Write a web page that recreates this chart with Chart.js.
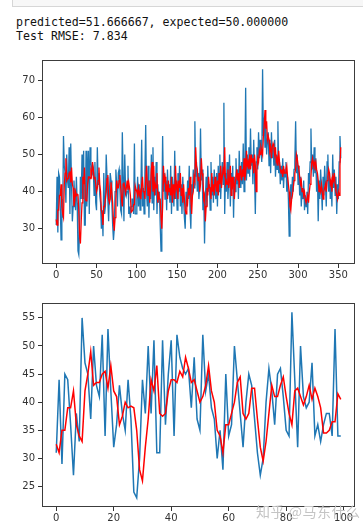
<!DOCTYPE html>
<html lang="en">
<head>
  <meta charset="UTF-8">
  <title>Test RMSE</title>
  <script src="https://cdn.jsdelivr.net/npm/chart.js"></script>
  <style>
    body { margin: 0; background: #fff; width: 363px; height: 531px; position: relative; overflow: hidden; }
    .cell-edge { position: absolute; left: 12px; top: -2px; width: 352px; height: 7px; border: 1px solid #d6d6d6; background: #f7f7f7; }
    pre { position: absolute; left: 16px; top: 15px; margin: 0; font-family: "DejaVu Sans Mono", "Liberation Mono", monospace; font-size: 11.6px; line-height: 14px; color: #111; }
    canvas { position: absolute; left: 0; }
    #topChart { top: 50px; }
    #bottomChart { top: 293px; }
    .mark { position: absolute; left: 256px; top: 501px; font-family: "Noto Sans CJK SC", sans-serif; font-size: 14px; color: #c4c4c4; letter-spacing: 0.5px; }
  </style>
</head>
<body>
  <div class="cell-edge"></div>
  <pre>predicted=51.666667, expected=50.000000
Test RMSE: 7.834</pre>

  <canvas id="topChart" width="363" height="235"></canvas>
  <canvas id="bottomChart" width="363" height="235"></canvas>
  <div class="mark">知乎 @马东什么</div>

  <script>
    // valores reales del test (los primeros 100 se repiten en el gráfico de abajo)
    const expectedHead = [31,44,29,45,44,36,27,38,33,55, 47,45,37,50,43,41,52,34,53,42,
      32,36,43,38,35,44,37,24,23,30, 44,38,50,38,51,31,31,51,36,45,
      51,34,52,48,46,45,46,39,48,37, 35,52,42,45,39,37,30,35,28,45,
      34,36,50,44,38,32,40,45,43,37, 31,27,30,40,46,42,36,45,46,41,
      35,34,56,44,32,50,41,39,40,47, 34,36,33,36,38,38,34,53,34,34];

    const expectedTail = [38,44,36,42,35,40,54,36,41,34, 45,58,40,36,47,33,43,38,50,37,
      52,35,44,39,48,34,42,37,40,31, 24,36,55,40,45,38,43,35,46,39,
      42,37,47,34,44,40,36,51,38,43, 35,45,40,47,36,42,34,44,38,33,
      30,40,36,43,38,47,35,30,42,39, 46,41,59,44,48,40,45,38,42,57,
      43,46,35,40,26,38,44,36,47,40, 42,35,48,39,44,37,46,41,38,45,
      36,47,40,50,38,44,48,42,64,34, 45,40,48,38,43,50,36,45,41,47,
      33,44,40,49,42,46,38,51,44,41, 48,42,53,40,46,68,43,50,45,52,
      44,57,47,50,42,54,45,34,48,52, 46,56,49,54,51,48,73,55,60,52,
      58,50,54,56,47,53,45,56,49,52, 47,54,44,50,46,59,45,48,42,47,
      43,49,41,46,44,48,40,44,38,28, 36,42,38,44,40,46,48,59,45,50,
      42,47,39,44,36,41,38,43,35,39, 36,40,34,45,42,48,57,46,50,44,
      52,45,49,40,45,32,43,38,46,41, 35,44,39,47,42,36,48,50,40,45,
      38,43,36,50,41,46,39,44,34,42, 38,48,55,49];

    // predicciones del modelo
    const predictedHead = [32.5,31,35,35,39,39,42,36,34,33, 42,45,49,43,43.5,43.5,45,45.5,42.5,46.5,
      42,41,36,37.5,40,39,39.3,39,35,28, 26,32,37,44,42,46.5,38,37.5,38,42,
      44,44,43.5,45.5,44.5,48,46,43.5,44,42, 40,41,43,46.5,42,40,35,34,31,36,
      36,38,40,43.5,44.5,38,37,38,42.5,42.5, 37,32,29.5,33,38,43,41,41,43,44.5,
      41,38,36,42,42.5,41,39.5,41,43,40.5, 42.5,41,39,34.5,34.5,35,36.5,36.5,41.5,40.5];

    const predictedTail = [40,39,41,39,40,38,42,44,40,40, 38,43,47,42,39,43,37,41,46,48,
      40,47,39,42,41,45,37,40,38,38, 33,30,36,47,43,44,40,42,38,43,
      40,41,39,44,37,42,40,38,47,41, 42,38,43,41,45,39,41,37,42,38,
      35,34,38,37,41,39,44,38,34,39, 40,44,43,52,47,46,43,44,40,42,
      49,45,44,38,39,32,36,41,39,44, 41,41,38,45,40,42,39,44,42,40,
      43,39,45,42,47,41,44,46,45,52, 42,43,42,46,41,43,47,39,44,42,
      44,38,42,42,46,43,45,41,47,45, 43,46,44,49,43,45,51,47,48,46,
      50,46,50,48,49,45,50,47,40,46, 49,48,51,50,52,51,50,55,58,62,
      57,59,54,55,54,51,52,49,52,53, 52,50,52,48,49,47,51,48,46,45,
      46,44,47,45,45,46,47,44,42,40, 36,35,38,39,41,43,45,46,50,49,
      47,46,44,42,43,40,41,39,40,38, 37,37,39,37,40,42,44,48,49,47,
      48,47,48,46,45,43,40,41,40,42, 40,38,40,41,42,40,43,44,46,45,
      42,43,40,44,43,45,42,40,39,38, 40,39,47,52];

    const expectedAll = expectedHead.concat(expectedTail);
    const predictedAll = predictedHead.concat(predictedTail);

    const topXTicks = [0, 50, 100, 150, 200, 250, 300, 350];
    const topYTicks = [30, 40, 50, 60, 70];
    const bottomXTicks = [0, 20, 40, 60, 80, 100];
    const bottomYTicks = [25, 30, 35, 40, 45, 50, 55];

    // caja completa alrededor del área (como las spines de matplotlib)
    const boxPlugin = {
      id: 'box',
      afterDraw(chart) {
        const { ctx, chartArea: a } = chart;
        ctx.save();
        ctx.strokeStyle = '#3c3c3c';
        ctx.lineWidth = 1;
        ctx.strokeRect(Math.round(a.left) + 0.5, Math.round(a.top) + 0.5,
          Math.round(a.right - a.left) - 1, Math.round(a.bottom - a.top) - 1);
        ctx.restore();
      }
    };

    function toPoints(values) {
      return values.map((v, i) => ({ x: i, y: v }));
    }

    function makeChart(id, expected, predicted, xTicks, yTicks, lineW) {
      const n = expected.length;
      const xPad = (n - 1) * 0.05;
      const all = expected.concat(predicted);
      const lo = Math.min(...all), hi = Math.max(...all);
      const yPad = (hi - lo) * 0.05;
      const tickFont = { family: 'DejaVu Sans', size: 10 };

      return new Chart(document.getElementById(id).getContext('2d'), {
        type: 'line',
        data: {
          datasets: [
            { label: 'expected', data: toPoints(expected), borderColor: '#1f77b4', borderWidth: lineW, pointRadius: 0, tension: 0, order: 2 },
            { label: 'predicted', data: toPoints(predicted), borderColor: '#ff0000', borderWidth: lineW, pointRadius: 0, tension: 0, order: 1 }
          ]
        },
        options: {
          responsive: false,
          animation: false,
          devicePixelRatio: 1,
          layout: { padding: { top: 10, right: 8, left: 0, bottom: 0 } },
          plugins: { legend: { display: false }, tooltip: { enabled: false } },
          scales: {
            x: {
              type: 'linear',
              min: -xPad,
              max: n - 1 + xPad,
              afterBuildTicks: s => { s.ticks = xTicks.map(v => ({ value: v })); },
              afterFit: s => { s.height = 21; },
              ticks: { color: '#333', font: tickFont, padding: 1, maxRotation: 0 },
              grid: { drawOnChartArea: false, drawTicks: true, tickLength: 4, color: '#333' },
              border: { display: false }
            },
            y: {
              min: lo - yPad,
              max: hi + yPad,
              afterBuildTicks: s => { s.ticks = yTicks.map(v => ({ value: v })); },
              afterFit: s => { s.width = 42; },
              ticks: { color: '#333', font: tickFont, padding: 3 },
              grid: { drawOnChartArea: false, drawTicks: true, tickLength: 4, color: '#333' },
              border: { display: false }
            }
          }
        },
        plugins: [boxPlugin]
      });
    }

    window.onload = () => {
      makeChart('topChart', expectedAll, predictedAll, topXTicks, topYTicks, 1.3);
      makeChart('bottomChart', expectedHead, predictedHead, bottomXTicks, bottomYTicks, 1.5);
    };
  </script>
</body>
</html>
